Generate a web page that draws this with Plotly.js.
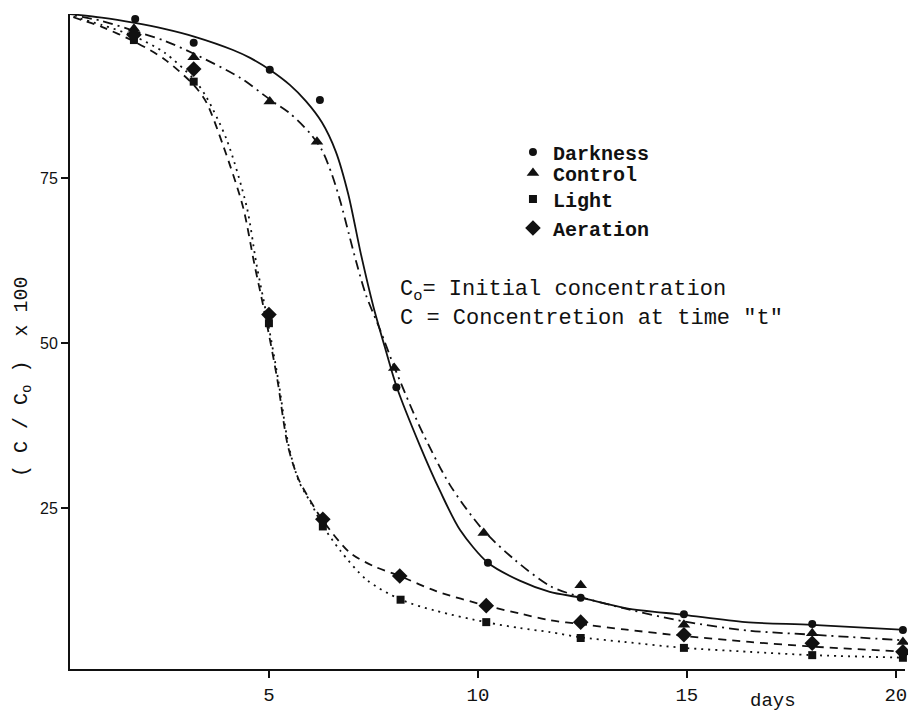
<!DOCTYPE html>
<html>
<head>
<meta charset="utf-8">
<script src="https://cdn.plot.ly/plotly-3.0.1.min.js"></script>
<style>html,body{margin:0;padding:0;background:#fff;}#chart{width:908px;height:713px;}</style>
</head>
<body>
<div id="chart"></div>
<script>
// ---- measured points (days, C/Co x 100) ----
var darkX = [1.8, 3.2, 5.02, 6.22, 8.05, 10.24, 12.46, 14.93, 18.0, 20.17];
var darkY = [99.1, 95.5, 91.4, 86.8, 43.3, 16.7, 11.4, 8.9, 7.4, 6.5];
var ctrlX = [1.77, 3.2, 5.02, 6.15, 8.0, 10.14, 12.46, 14.93, 18.0, 20.17];
var ctrlY = [97.6, 93.3, 86.6, 80.5, 46.2, 21.2, 13.3, 7.3, 6.0, 4.7];
var lightX = [1.77, 3.2, 5.0, 6.29, 8.15, 10.2, 12.46, 14.93, 18.0, 20.17];
var lightY = [95.9, 89.6, 53.0, 22.2, 11.1, 7.7, 5.3, 3.8, 2.7, 2.3];
var aerX = [1.77, 3.2, 5.0, 6.29, 8.13, 10.2, 12.46, 14.93, 18.0, 20.17];
var aerY = [96.7, 91.5, 54.3, 23.3, 14.7, 10.2, 7.7, 5.8, 4.5, 3.2];

// ---- fitted curves ----
var darkCurveX = [0, 1.0, 1.79, 2.5, 3.23, 4.14, 4.55, 5.02, 5.5, 5.89, 6.27, 6.6, 6.9, 7.2, 7.5, 7.8, 8.06, 8.61, 9.1, 9.57, 10.24, 11.0, 11.72, 12.46, 13.56, 14.93, 16.4, 18.0, 20.3];
var darkCurveY = [100, 99.3, 98.5, 97.6, 96.4, 94.4, 93.2, 91.4, 89.1, 86.6, 83.4, 79.0, 72.5, 63.5, 55.5, 48.8, 43.3, 34.5, 27.5, 21.7, 16.7, 14.0, 12.3, 11.4, 9.8, 8.8, 7.7, 7.3, 6.5];
var ctrlCurveX = [0, 1.0, 1.77, 2.5, 3.18, 4.31, 5.02, 5.5, 5.98, 6.27, 6.51, 6.72, 6.91, 7.11, 7.32, 7.66, 8.01, 8.61, 9.33, 10.12, 10.89, 11.72, 12.46, 13.56, 14.93, 16.5, 18.0, 20.3];
var ctrlCurveY = [100, 98.8, 97.3, 95.8, 93.9, 90.2, 86.9, 84.8, 81.8, 79.2, 75.5, 71.2, 66.6, 61.8, 57.3, 52.0, 46.2, 37.3, 28.5, 21.7, 17.1, 13.2, 11.5, 9.7, 7.8, 6.4, 5.8, 4.9];
var lightCurveX = [0, 1.0, 1.8, 2.5, 3.2, 3.5, 3.99, 4.47, 4.7, 4.95, 5.22, 5.47, 5.72, 6.0, 6.3, 6.7, 7.34, 8.16, 9.0, 10.19, 11.0, 11.72, 12.46, 13.5, 14.93, 16.5, 18.0, 20.3];
var lightCurveY = [100, 98.2, 96.4, 94.0, 90.0, 87.3, 80.8, 70.6, 62.0, 54.0, 44.5, 34.5, 29.0, 25.8, 22.2, 18.6, 14.1, 11.1, 9.4, 7.7, 6.8, 6.2, 5.4, 4.7, 3.8, 3.2, 2.7, 2.3];
var aerCurveX = [0, 1.0, 1.8, 2.5, 3.2, 3.5, 3.9, 4.38, 4.65, 4.9, 5.2, 5.45, 5.7, 6.0, 6.3, 6.94, 7.5, 8.13, 9.0, 10.2, 11.0, 11.72, 12.46, 13.5, 14.93, 16.5, 18.0, 20.3];
var aerCurveY = [100, 97.9, 95.6, 93.0, 89.1, 86.5, 80.0, 70.6, 62.0, 54.5, 44.5, 34.5, 29.5, 26.0, 23.0, 18.2, 16.2, 14.7, 12.4, 10.2, 9.0, 8.0, 7.4, 6.6, 5.6, 4.7, 4.0, 3.2];

var seriesNames = ['Darkness', 'Control', 'Light', 'Aeration'];
var xTicks = [5, 10, 15, 20];
var yTicks = [25, 50, 75];

var INK = '#111';
var MONO = '"Liberation Mono", "DejaVu Sans Mono", monospace';

function curve(x, y, dash) {
  return {x: x, y: y, type: 'scatter', mode: 'lines', showlegend: false, hoverinfo: 'skip',
          line: {color: INK, width: 1.8, dash: dash, shape: 'spline', smoothing: 0.8}};
}
function pts(x, y, name, symbol, size, legendId) {
  return {x: x, y: y, type: 'scatter', mode: 'markers', name: name, legend: legendId,
          cliponaxis: false,
          marker: {color: INK, symbol: symbol, size: size, line: {width: 0}}};
}

var data = [
  curve(darkCurveX, darkCurveY, 'solid'),
  curve(ctrlCurveX, ctrlCurveY, '10px,5px,2px,5px'),
  curve(lightCurveX, lightCurveY, '2px,5px'),
  curve(aerCurveX, aerCurveY, '8px,6px'),
  pts(darkX, darkY, seriesNames[0], 'circle', 8, 'legend'),
  pts(ctrlX, ctrlY, seriesNames[1], 'triangle-up', 11, 'legend2'),
  pts(lightX, lightY, seriesNames[2], 'square', 8, 'legend3'),
  pts(aerX, aerY, seriesNames[3], 'diamond', 12, 'legend4')
];

function leg(yc) {
  return {x: 0.5305, xanchor: 'left', y: yc, yanchor: 'middle', bgcolor: 'rgba(0,0,0,0)',
          borderwidth: 0, font: {family: MONO, size: 20, color: INK, weight: 'bold'}};
}

var layout = {
  width: 908, height: 713,
  margin: {l: 70, r: 3, t: 14, b: 44, pad: 0},
  paper_bgcolor: '#fff', plot_bgcolor: '#fff',
  showlegend: true,
  legend: leg(0.7893),
  legend2: leg(0.7573),
  legend3: leg(0.7176),
  legend4: leg(0.6733),
  xaxis: {
    range: [0.24, 20.22], showgrid: false, zeroline: false,
    showline: true, linecolor: INK, linewidth: 2,
    ticks: 'outside', ticklen: 7, tickwidth: 1.5, tickcolor: INK,
    tickvals: xTicks, ticktext: xTicks.map(String),
    tickfont: {family: MONO, size: 19, color: INK}
  },
  yaxis: {
    range: [0.6, 99.85], showgrid: false, zeroline: false,
    showline: true, linecolor: INK, linewidth: 2,
    ticks: 'outside', ticklen: 7, tickwidth: 1.5, tickcolor: INK,
    tickvals: yTicks, ticktext: yTicks.map(String),
    tickfont: {family: '"Liberation Sans", Arial, sans-serif', size: 16, color: INK}
  },
  annotations: [
    {xref: 'paper', yref: 'paper', x: -0.0575, y: (669 - 377) / 655, textangle: -90,
     text: '( C / C<sub>o</sub> )  x 100', showarrow: false, xanchor: 'center', yanchor: 'middle',
     font: {family: MONO, size: 20, color: INK}},
    {xref: 'paper', yref: 'paper', x: (773 - 70) / 835, y: (669 - 701) / 655,
     text: 'days', showarrow: false, xanchor: 'center', yanchor: 'middle',
     font: {family: MONO, size: 19, color: INK}},
    {xref: 'paper', yref: 'paper', x: (398 - 70) / 835, y: (669 - 291) / 655,
     text: 'C<sub>o</sub>= Initial concentration', showarrow: false, xanchor: 'left', yanchor: 'middle',
     font: {family: MONO, size: 22, color: INK}},
    {xref: 'paper', yref: 'paper', x: (398 - 70) / 835, y: (669 - 318) / 655,
     text: 'C = Concentretion at time "t"', showarrow: false, xanchor: 'left', yanchor: 'middle',
     font: {family: MONO, size: 22, color: INK}}
  ]
};

Plotly.newPlot('chart', data, layout, {displayModeBar: false, staticPlot: true});
</script>
</body>
</html>
